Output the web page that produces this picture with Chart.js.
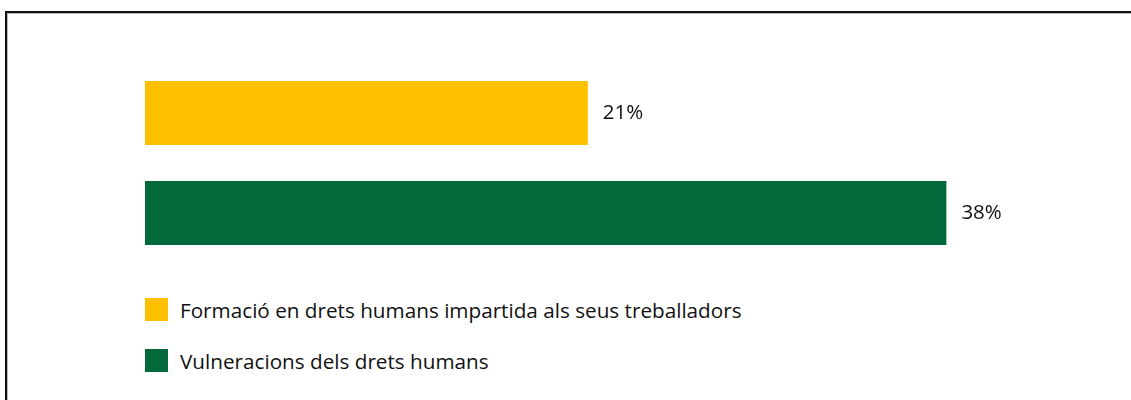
<!DOCTYPE html>
<html>
<head>
<meta charset="utf-8">
<script src="https://cdn.jsdelivr.net/npm/chart.js@4.4.0/dist/chart.umd.min.js"></script>
<style>
  body { margin: 0; background: #fff; overflow: hidden; width: 1131px; height: 400px; position: relative; font-family: "Open Sans", sans-serif; }
  #frame { position: absolute; left: 5px; top: 11px; width: 1200px; height: 500px; border: 2px solid #111; box-shadow: inset 1px 1px 0 #bbb; }
  #wrap { position: absolute; left: 0; top: 0; width: 1131px; height: 280px; }
  #legend { position: absolute; left: 145px; top: 298px; margin: 0; padding: 0; list-style: none; }
  #legend li { height: 23px; margin-bottom: 28px; display: flex; align-items: center; font-size: 20.7px; color: #111; white-space: nowrap; }
  #legend span.box { display: inline-block; width: 23px; height: 23px; margin-right: 12px; }
</style>
</head>
<body>
<div id="frame"></div>
<div id="wrap"><canvas id="canvas"></canvas></div>
<ul id="legend"></ul>
<script>
var categories = [''];
var seriesNames = ['Formació en drets humans impartida als seus treballadors', 'Vulneracions dels drets humans'];
var seriesValues = [[21], [38]];
var seriesColors = ['#FFC000', '#01693A'];

var datasets = [];
for (var i = 0; i < seriesNames.length; i++) {
    datasets.push({
        label: seriesNames[i],
        data: seriesValues[i],
        backgroundColor: seriesColors[i],
        borderWidth: 0,
        categoryPercentage: 1,
        barPercentage: 0.64
    });
}

// percent label at the end of each bar
var valueLabels = {
    id: 'valueLabels',
    afterDatasetsDraw: function(chart) {
        var ctx = chart.ctx;
        ctx.save();
        ctx.font = '20.5px "Open Sans", sans-serif';
        ctx.fillStyle = '#111';
        ctx.textBaseline = 'middle';
        ctx.textAlign = 'left';
        chart.data.datasets.forEach(function(ds, i) {
            chart.getDatasetMeta(i).data.forEach(function(bar, j) {
                ctx.fillText(ds.data[j] + '%', bar.x + 15, bar.y);
            });
        });
        ctx.restore();
    }
};

var chart = new Chart(document.getElementById('canvas'), {
    type: 'bar',
    data: { labels: categories, datasets: datasets },
    options: {
        indexAxis: 'y',
        responsive: true,
        maintainAspectRatio: false,
        animation: false,
        layout: { padding: { left: 145, right: 37, top: 63, bottom: 17 } },
        scales: {
            x: { display: false, min: 0, max: 45 },
            y: { display: false }
        },
        plugins: {
            legend: { display: false },
            tooltip: { enabled: false }
        }
    },
    plugins: [valueLabels]
});

// legend as a vertical list, built from the datasets
var legend = document.getElementById('legend');
chart.data.datasets.forEach(function(ds) {
    var li = document.createElement('li');
    var box = document.createElement('span');
    box.className = 'box';
    box.style.background = ds.backgroundColor;
    li.appendChild(box);
    li.appendChild(document.createTextNode(ds.label));
    legend.appendChild(li);
});
</script>
</body>
</html>
